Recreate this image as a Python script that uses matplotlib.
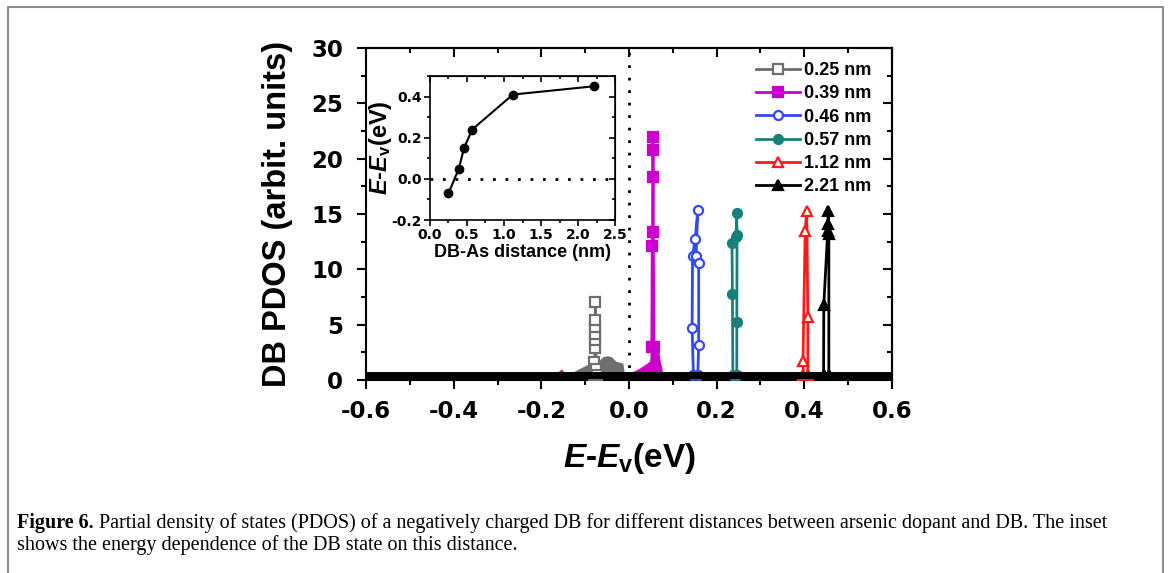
import matplotlib
matplotlib.use('Agg')
import matplotlib.pyplot as plt
from matplotlib.ticker import MultipleLocator
from matplotlib.lines import Line2D

plt.rcParams['font.family'] = 'Liberation Sans'
plt.rcParams['font.weight'] = 'bold'
plt.rcParams['axes.labelweight'] = 'bold'
plt.rcParams['mathtext.fontset'] = 'custom'
plt.rcParams['mathtext.it'] = 'Liberation Sans:italic:bold'
plt.rcParams['mathtext.rm'] = 'Liberation Sans:bold'
plt.rcParams['mathtext.bf'] = 'Liberation Sans:bold'

# --- data ---
labels = ['0.25 nm', '0.39 nm', '0.46 nm', '0.57 nm', '1.12 nm', '2.21 nm']
colors = ['#6e6e6e', '#cc00cc', '#3348f0', '#17807a', '#ff1a1a', '#000000']
markers = ['s', 's', 'o', 'o', '^', '^']
filled = [False, True, False, True, False, True]

# peak points of each PDOS curve (E - Ev in eV, PDOS in arbit. units)
x_025 = [-0.080, -0.079, -0.077, -0.078, -0.078, -0.078, -0.077, -0.077, -0.075, -0.074]
y_025 = [0.45, 1.6, 2.9, 3.6, 4.2, 4.8, 5.4, 7.05, 1.0, 0.45]
x_039 = [0.052, 0.053, 0.054, 0.055, 0.055, 0.054, 0.057]
y_039 = [3.0, 12.1, 13.4, 18.3, 20.8, 21.95, 3.0]
x_046 = [0.147, 0.144, 0.145, 0.151, 0.157, 0.153, 0.159, 0.159, 0.157]
y_046 = [0.45, 4.67, 11.25, 12.7, 15.4, 11.25, 10.6, 3.16, 0.45]
x_057 = [0.237, 0.236, 0.235, 0.2445, 0.2455, 0.2465, 0.246, 0.246]
y_057 = [0.45, 7.8, 12.4, 12.9, 15.1, 13.1, 5.2, 0.45]
x_112 = [0.398, 0.397, 0.402, 0.4055, 0.408, 0.408]
y_112 = [0.45, 1.7, 13.45, 15.3, 5.7, 0.45]
x_221 = [0.444, 0.4445, 0.4535, 0.455, 0.4545, 0.456, 0.456]
y_221 = [0.45, 6.8, 13.5, 15.25, 14.1, 13.2, 0.45]

# broad low-lying tails of the 0.25 nm and 0.39 nm curves
tail_025_x = [-0.14, -0.12, -0.10, -0.09, -0.08, -0.07, -0.06, -0.05, -0.04, -0.03, -0.02, -0.014, -0.01]
tail_025_y = [0.45, 0.9, 1.3, 1.5, 1.6, 1.7, 2.1, 2.2, 2.1, 1.7, 1.6, 1.5, 0.45]
tail_039_x = [-0.005, 0.01, 0.025, 0.04, 0.047, 0.05, 0.065, 0.07, 0.078]
tail_039_y = [0.45, 0.8, 1.1, 1.5, 1.7, 3.5, 3.5, 2.0, 0.45]
tail_112_x = [-0.17, -0.155, -0.14]
tail_112_y = [0.45, 1.0, 0.45]

# common near-zero baseline of all curves
base_x = [-0.6, 0.6]
base_y = [0.45, 0.45]

# inset: DB level vs DB-As distance
dist = [0.25, 0.39, 0.46, 0.57, 1.12, 2.21]
level = [-0.07, 0.05, 0.15, 0.24, 0.41, 0.45]

peaks_x = [x_025, x_039, x_046, x_057, x_112, x_221]
peaks_y = [y_025, y_039, y_046, y_057, y_112, y_221]

tick_font = dict(family='DejaVu Sans', weight='bold')

fig = plt.figure(figsize=(11.71, 5.73), dpi=100)
ax = fig.add_axes([0.3126, 0.3368, 0.4491, 0.5794])

ax.fill_between(tail_025_x, 0, tail_025_y, color=colors[0], lw=0, zorder=2)
ax.fill_between(tail_039_x, 0, tail_039_y, color=colors[1], lw=0, zorder=2)
ax.fill_between(tail_112_x, 0, tail_112_y, color=colors[4], lw=0, zorder=2)

for xs, ys, lab, c, m, f in zip(peaks_x, peaks_y, labels, colors, markers, filled):
    ax.plot(xs, ys, color=c, lw=2, marker=m, ms=6.5, mew=1.6,
            mfc=c if f else 'white', mec=c, label=lab, zorder=3)

ax.plot(base_x, base_y, color='black', lw=5, solid_capstyle='butt', zorder=4)
ax.axvline(0, color='black', lw=2, ls=(0, (1, 3.5)), zorder=1)

ax.set_xlim(-0.6, 0.6)
ax.set_ylim(0, 30)
ax.xaxis.set_minor_locator(MultipleLocator(0.1))
ax.yaxis.set_minor_locator(MultipleLocator(2.5))
ax.set_xticks([-0.6, -0.4, -0.2, 0.0, 0.2, 0.4, 0.6])
ax.set_xticklabels(['-0.6', '-0.4', '-0.2', '0.0', '0.2', '0.4', '0.6'], **tick_font)
ax.set_yticks([0, 5, 10, 15, 20, 25, 30])
ax.set_yticklabels(['0', '5', '10', '15', '20', '25', '30'], **tick_font)
ax.tick_params(which='both', direction='out', width=1.5, labelsize=16.5)
ax.tick_params(axis='x', pad=8)
ax.tick_params(axis='y', pad=10)
ax.tick_params(which='major', length=6.5)
ax.tick_params(which='minor', length=3.5)
for s in ax.spines.values():
    s.set_linewidth(1.5)

# mirrored ticks pointing inwards on top and right
top = ax.secondary_xaxis('top')
top.xaxis.set_major_locator(MultipleLocator(0.2))
top.xaxis.set_minor_locator(MultipleLocator(0.1))
top.tick_params(which='both', direction='in', width=1.5, labeltop=False)
top.tick_params(which='major', length=6.5)
top.tick_params(which='minor', length=3.5)
right = ax.secondary_yaxis('right')
right.yaxis.set_major_locator(MultipleLocator(5))
right.yaxis.set_minor_locator(MultipleLocator(2.5))
right.tick_params(which='both', direction='in', width=1.5, labelright=False)
right.tick_params(which='major', length=6.5)
right.tick_params(which='minor', length=3.5)
top.spines['top'].set_linewidth(1.5)
right.spines['right'].set_linewidth(1.5)

ax.set_xlabel(r'$E$-$E_\mathrm{v}$(eV)', fontsize=24, labelpad=13)
ax.set_ylabel('DB PDOS (arbit. units)', fontsize=23.5, labelpad=13)

ax.legend(loc='upper right', bbox_to_anchor=(0.975, 0.98), frameon=False,
          fontsize=13, handlelength=2.4, handletextpad=0.25, labelspacing=0.35,
          borderaxespad=0)

# --- inset ---
ax_in = fig.add_axes([0.3672, 0.616, 0.158, 0.2513])
ax_in.plot(dist, level, color='black', lw=1.5, marker='o', ms=6)
ax_in.axhline(0, color='black', lw=2, ls=(0, (1, 3.5)))
ax_in.set_xlim(0, 2.5)
ax_in.set_ylim(-0.2, 0.5)
ax_in.set_xticks([0.0, 0.5, 1.0, 1.5, 2.0, 2.5])
ax_in.set_xticklabels(['0.0', '0.5', '1.0', '1.5', '2.0', '2.5'], **tick_font)
ax_in.set_yticks([-0.2, 0.0, 0.2, 0.4])
ax_in.set_yticklabels(['-0.2', '0.0', '0.2', '0.4'], **tick_font)
ax_in.xaxis.set_minor_locator(MultipleLocator(0.25))
ax_in.yaxis.set_minor_locator(MultipleLocator(0.1))
ax_in.tick_params(which='both', direction='out', width=1.2, labelsize=10, pad=2)
ax_in.tick_params(which='major', length=4)
ax_in.tick_params(which='minor', length=2.5)
for s in ax_in.spines.values():
    s.set_linewidth(1.2)
in_top = ax_in.secondary_xaxis('top')
in_top.xaxis.set_major_locator(MultipleLocator(0.5))
in_top.xaxis.set_minor_locator(MultipleLocator(0.25))
in_top.tick_params(which='both', direction='in', width=1.2, labeltop=False)
in_top.tick_params(which='major', length=4)
in_top.tick_params(which='minor', length=2.5)
in_right = ax_in.secondary_yaxis('right')
in_right.yaxis.set_major_locator(MultipleLocator(0.2))
in_right.yaxis.set_minor_locator(MultipleLocator(0.1))
in_right.tick_params(which='both', direction='in', width=1.2, labelright=False)
in_right.tick_params(which='major', length=4)
in_right.tick_params(which='minor', length=2.5)
ax_in.set_xlabel('DB-As distance (nm)', fontsize=13, labelpad=1)
ax_in.set_ylabel(r'$E$-$E_\mathrm{v}$(eV)', fontsize=17, labelpad=-2)

# --- page frame and caption ---
W, H = 1171, 573
frame_c = '#8c8c8c'
fig.add_artist(Line2D([8 / W, 8 / W, 1163 / W, 1163 / W], [0, 1 - 7 / H, 1 - 7 / H, 0],
                      transform=fig.transFigure, color=frame_c, lw=1.5))

serif = 'Liberation Serif'
cap_size = 14.5
t1 = fig.text(17 / W, 1 - 528 / H, 'Figure 6.', family=serif, weight='bold',
              fontsize=cap_size, va='baseline')
ax.annotate(' Partial density of states (PDOS) of a negatively charged DB for different '
            'distances between arsenic dopant and DB. The inset',
            xy=(1, 0), xycoords=t1, va='bottom', ha='left',
            family=serif, weight='normal', fontsize=cap_size, annotation_clip=False)
fig.text(17 / W, 1 - 550 / H, 'shows the energy dependence of the DB state on this distance.',
         family=serif, weight='normal', fontsize=cap_size, va='baseline')

fig.savefig('out.png', dpi=100)
